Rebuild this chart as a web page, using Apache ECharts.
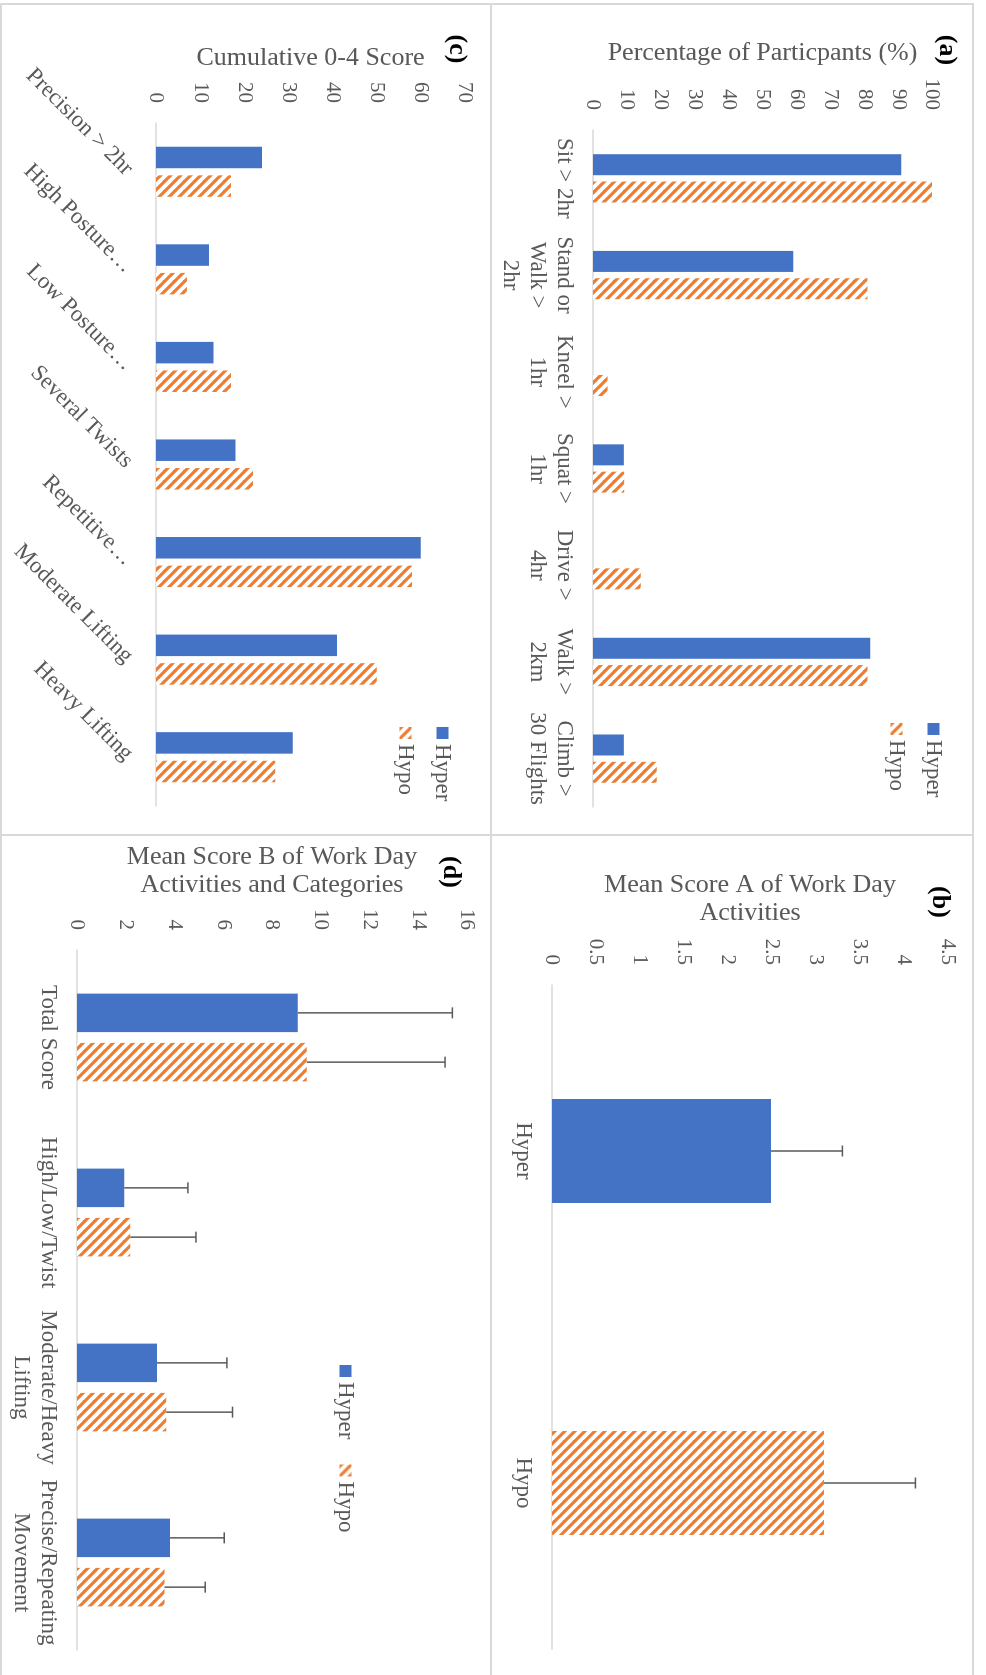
<!DOCTYPE html>
<html>
<head>
<meta charset="utf-8" />
<title>Work day activity scores</title>
<script src="https://cdn.jsdelivr.net/npm/echarts@6/dist/echarts.min.js"></script>
<style>
html, body { margin: 0; padding: 0; background: #fff; overflow: hidden; width: 986px; height: 1675px; }
/* the figure is laid out landscape and turned a quarter clockwise, like the source */
#page { position: absolute; left: 0; top: 0; width: 1675px; height: 986px;
        transform-origin: 0 0; transform: translate(986px, 0) rotate(90deg); }
</style>
</head>
<body>
<div id="page"></div>
<script>
// (a) percentage of participants
var catA = ['Sit > 2hr', 'Stand or\nWalk >\n2hr', 'Kneel >\n1hr', 'Squat >\n1hr', 'Drive >\n4hr', 'Walk >\n2km', 'Climb >\n30 Flights'];
var hyperA = [90.9, 59.1, 0, 9.1, 0, 81.8, 9.1];
var hypoA = [100, 81, 4.3, 9.2, 14.1, 81, 18.8];

// (b) mean score A
var catB = ['Hyper', 'Hypo'];
var meanB = [2.49, 3.09];
var sdB = [0.81, 1.04];

// (c) cumulative 0-4 score
var catC = ['Precision > 2hr', 'High Posture\u2026', 'Low Posture\u2026', 'Several Twists', 'Repetitive\u2026', 'Moderate Lifting', 'Heavy Lifting'];
var hyperC = [24, 12, 13, 18, 60, 41, 31];
var hypoC = [17, 7, 17, 22, 58, 50, 27];

// (d) mean score B
var catD = ['Total Score', 'High/Low/Twist', 'Moderate/Heavy\nLifting', 'Precise/Repeating\nMovement'];
var hyperD = [9.06, 1.94, 3.28, 3.82];
var hyperSdD = [6.34, 2.61, 2.87, 2.22];
var hypoD = [9.43, 2.18, 3.66, 3.59];
var hypoSdD = [5.67, 2.70, 2.72, 1.67];

var BLUE = '#4472C4', ORANGE = '#ED7D31', TXT = '#595959', FONT = '"Liberation Serif", "DejaVu Serif", serif';

function hatchCanvas() {
	var c = document.createElement('canvas');
	c.width = 10; c.height = 10;
	var ctx = c.getContext('2d');
	ctx.fillStyle = '#fff';
	ctx.fillRect(0, 0, 10, 10);
	ctx.strokeStyle = ORANGE;
	ctx.lineWidth = 3.2;
	[-10, 0, 10].forEach(function (k) {
		ctx.beginPath();
		ctx.moveTo(k - 2, -2);
		ctx.lineTo(k + 12, 12);
		ctx.stroke();
	});
	return c;
}
var HATCH = { image: hatchCanvas(), repeat: 'repeat' };

function catAxis(idx, data, extra) {
	var ax = {
		type: 'category', gridIndex: idx, data: data,
		axisLine: { lineStyle: { color: '#D9D9D9', width: 1.5 } },
		axisTick: { show: false },
		axisLabel: { interval: 0, margin: 15, color: TXT, fontFamily: FONT, fontSize: 23, lineHeight: 27 }
	};
	if (extra) Object.assign(ax.axisLabel, extra);
	return ax;
}
function valAxis(idx, max, step, name, gap) {
	return {
		type: 'value', gridIndex: idx, min: 0, max: max, interval: step,
		name: name, nameLocation: 'middle', nameRotate: 90, nameGap: gap,
		nameTextStyle: { color: TXT, fontFamily: FONT, fontSize: 26, lineHeight: 28 },
		axisLine: { show: false }, axisTick: { show: false }, splitLine: { show: false },
		axisLabel: { margin: 20, color: TXT, fontFamily: FONT, fontSize: 21 }
	};
}
function legend(left, top, orient, gap) {
	return {
		left: left, top: top, orient: orient, itemGap: gap, itemWidth: 12, itemHeight: 12,
		icon: 'rect', data: ['Hyper', 'Hypo'], selectedMode: false,
		textStyle: { color: TXT, fontFamily: FONT, fontSize: 23 }
	};
}
// plus-only error bars drawn over a bar, shifted to the bar's slot
function errSeries(idx, means, sds, shift) {
	return {
		type: 'custom', xAxisIndex: idx, yAxisIndex: idx, z: 5, silent: true,
		data: means.map(function (m, i) { return [i, m, sds[i]]; }),
		encode: { x: 0, y: 1 },
		renderItem: function (params, api) {
			var lo = api.coord([api.value(0), api.value(1)]);
			var hi = api.coord([api.value(0), api.value(1) + api.value(2)]);
			var x = lo[0] + shift;
			var st = { stroke: TXT, lineWidth: 1.5 };
			return { type: 'group', children: [
				{ type: 'line', shape: { x1: x, y1: lo[1], x2: x, y2: hi[1] }, style: st },
				{ type: 'line', shape: { x1: x - 5.5, y1: hi[1], x2: x + 5.5, y2: hi[1] }, style: st }
			] };
		}
	};
}

var bwD = 38.5, gapD = 0.28;
var shiftD = bwD * (1 + gapD) / 2;

var chart = echarts.init(document.getElementById('page'));
var option = {
	animation: false,
	grid: [
		{ left: 130, top: 54, width: 677, height: 339, outerBoundsMode: 'none' },
		{ left: 985, top: 38, width: 664, height: 396, outerBoundsMode: 'none' },
		{ left: 123, top: 521, width: 683, height: 309, outerBoundsMode: 'none' },
		{ left: 950, top: 519, width: 700, height: 390, outerBoundsMode: 'none' }
	],
	xAxis: [
		catAxis(0, catA),
		catAxis(1, catB),
		catAxis(2, catC, { rotate: 45, margin: 27 }),
		catAxis(3, catD)
	],
	yAxis: [
		valAxis(0, 100, 10, 'Percentage of Particpants (%)', 63),
		valAxis(1, 4.5, 0.5, 'Mean Score A of Work Day\nActivities', 58),
		valAxis(2, 70, 10, 'Cumulative 0-4 Score', 51),
		valAxis(3, 16, 2, 'Mean Score B of Work Day\nActivities and Categories', 51)
	],
	legend: [
		legend(718, 36, 'vertical', 14),
		legend(722, 527, 'vertical', 14),
		legend(1360, 624, 'horizontal', 25)
	],
	graphic: [
		{ type: 'rect', z: -1, shape: { x: 4, y: 13, width: 831, height: 482 }, style: { fill: 'transparent', stroke: '#D9D9D9', lineWidth: 2 } },
		{ type: 'rect', z: -1, shape: { x: 835, y: 13, width: 900, height: 482 }, style: { fill: 'transparent', stroke: '#D9D9D9', lineWidth: 2 } },
		{ type: 'rect', z: -1, shape: { x: 4, y: 495, width: 831, height: 490 }, style: { fill: 'transparent', stroke: '#D9D9D9', lineWidth: 2 } },
		{ type: 'rect', z: -1, shape: { x: 835, y: 495, width: 900, height: 490 }, style: { fill: 'transparent', stroke: '#D9D9D9', lineWidth: 2 } },
		{ type: 'text', x: 50, y: 39, style: { text: '(a)', font: 'bold 26px ' + FONT, fill: '#000', align: 'center', verticalAlign: 'middle' } },
		{ type: 'text', x: 902, y: 46, style: { text: '(b)', font: 'bold 26px ' + FONT, fill: '#000', align: 'center', verticalAlign: 'middle' } },
		{ type: 'text', x: 49, y: 529, style: { text: '(c)', font: 'bold 26px ' + FONT, fill: '#000', align: 'center', verticalAlign: 'middle' } },
		{ type: 'text', x: 872, y: 535, style: { text: '(d)', font: 'bold 26px ' + FONT, fill: '#000', align: 'center', verticalAlign: 'middle' } }
	],
	series: [
		{ name: 'Hyper', type: 'bar', xAxisIndex: 0, yAxisIndex: 0, data: hyperA, barWidth: 21, barGap: '30%', itemStyle: { color: BLUE } },
		{ name: 'Hypo', type: 'bar', xAxisIndex: 0, yAxisIndex: 0, data: hypoA, barWidth: 21, barGap: '30%', itemStyle: { color: HATCH } },

		{ name: 'Score A', type: 'bar', xAxisIndex: 1, yAxisIndex: 1, barWidth: 104,
		  data: meanB.map(function (v, i) { return { value: v, itemStyle: { color: i === 0 ? BLUE : HATCH } }; }) },
		errSeries(1, meanB, sdB, 0),

		{ name: 'Hyper', type: 'bar', xAxisIndex: 2, yAxisIndex: 2, data: hyperC, barWidth: 21.5, barGap: '33%', itemStyle: { color: BLUE } },
		{ name: 'Hypo', type: 'bar', xAxisIndex: 2, yAxisIndex: 2, data: hypoC, barWidth: 21.5, barGap: '33%', itemStyle: { color: HATCH } },

		{ name: 'Hyper', type: 'bar', xAxisIndex: 3, yAxisIndex: 3, data: hyperD, barWidth: bwD, barGap: (gapD * 100) + '%', itemStyle: { color: BLUE } },
		{ name: 'Hypo', type: 'bar', xAxisIndex: 3, yAxisIndex: 3, data: hypoD, barWidth: bwD, barGap: (gapD * 100) + '%', itemStyle: { color: HATCH } },
		errSeries(3, hyperD, hyperSdD, -shiftD),
		errSeries(3, hypoD, hypoSdD, shiftD)
	]
};
chart.setOption(option);
</script>
</body>
</html>
